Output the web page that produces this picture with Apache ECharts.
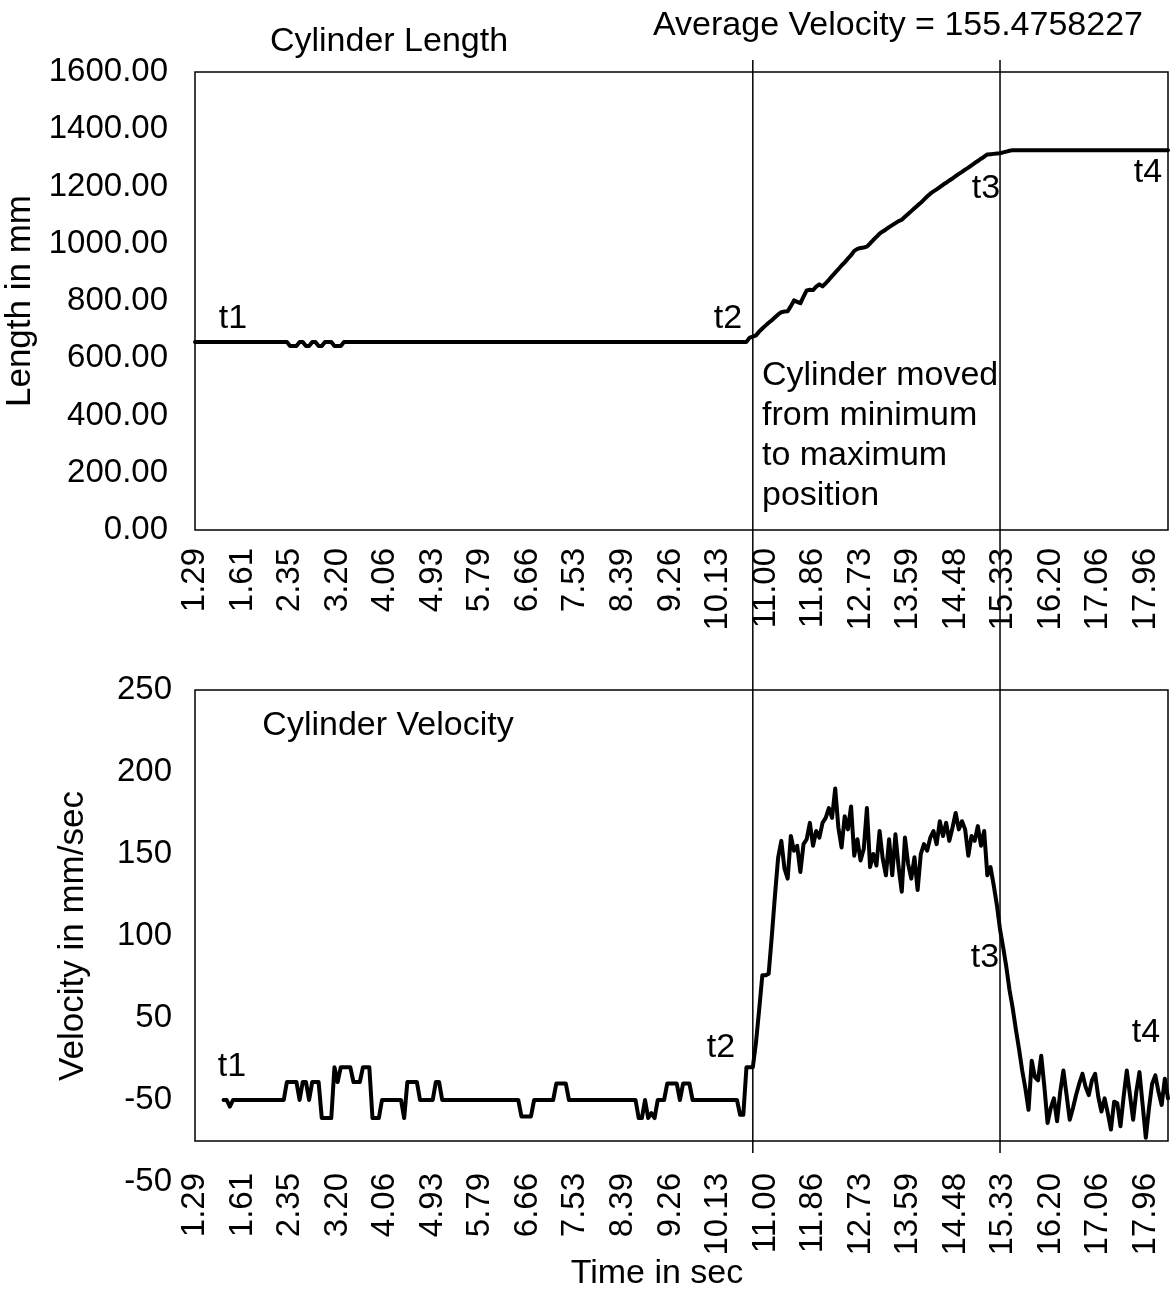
<!DOCTYPE html>
<html><head><meta charset="utf-8">
<script src="https://cdn.jsdelivr.net/npm/echarts@6.0.0/dist/echarts.min.js"></script>
<style>html,body{margin:0;padding:0;background:#fff}#c{width:1176px;height:1301px}</style>
</head><body><div id="c"></div>
<script>
// time (s) per sample; every 15th is labelled
const times = [
1.29,1.31,1.33,1.35,1.38,1.40,1.42,1.44,1.46,1.48,1.50,1.52,1.55,1.57,1.59,
1.61,1.66,1.71,1.76,1.81,1.86,1.91,1.96,2.00,2.05,2.10,2.15,2.20,2.25,2.30,
2.35,2.41,2.46,2.52,2.58,2.63,2.69,2.75,2.80,2.86,2.92,2.97,3.03,3.09,3.14,
3.20,3.26,3.31,3.37,3.43,3.49,3.54,3.60,3.66,3.72,3.77,3.83,3.89,3.95,4.00,
4.06,4.12,4.18,4.23,4.29,4.35,4.41,4.47,4.52,4.58,4.64,4.70,4.76,4.81,4.87,
4.93,4.99,5.04,5.10,5.16,5.22,5.27,5.33,5.39,5.45,5.50,5.56,5.62,5.68,5.73,
5.79,5.85,5.91,5.96,6.02,6.08,6.14,6.20,6.25,6.31,6.37,6.43,6.49,6.54,6.60,
6.66,6.72,6.78,6.83,6.89,6.95,7.01,7.07,7.12,7.18,7.24,7.30,7.36,7.41,7.47,
7.53,7.59,7.64,7.70,7.76,7.82,7.87,7.93,7.99,8.05,8.10,8.16,8.22,8.28,8.33,
8.39,8.45,8.51,8.56,8.62,8.68,8.74,8.80,8.85,8.91,8.97,9.03,9.09,9.14,9.20,
9.26,9.32,9.38,9.43,9.49,9.55,9.61,9.67,9.72,9.78,9.84,9.90,9.96,10.01,10.07,
10.13,10.19,10.25,10.30,10.36,10.42,10.48,10.54,10.59,10.65,10.71,10.77,10.83,10.88,10.94,
11.00,11.06,11.11,11.17,11.23,11.29,11.34,11.40,11.46,11.52,11.57,11.63,11.69,11.75,11.80,
11.86,11.92,11.98,12.03,12.09,12.15,12.21,12.27,12.32,12.38,12.44,12.50,12.56,12.61,12.67,
12.73,12.79,12.84,12.90,12.96,13.02,13.07,13.13,13.19,13.25,13.30,13.36,13.42,13.48,13.53,
13.59,13.65,13.71,13.77,13.83,13.89,13.95,14.01,14.06,14.12,14.18,14.24,14.30,14.36,14.42,
14.48,14.54,14.59,14.65,14.71,14.76,14.82,14.88,14.93,14.99,15.05,15.10,15.16,15.22,15.27,
15.33,15.39,15.45,15.50,15.56,15.62,15.68,15.74,15.79,15.85,15.91,15.97,16.03,16.08,16.14,
16.20,16.26,16.31,16.37,16.43,16.49,16.54,16.60,16.66,16.72,16.77,16.83,16.89,16.95,17.00,
17.06,17.12,17.18,17.24,17.30,17.36,17.42,17.48,17.54,17.60,17.66,17.72,17.78,17.84,17.90,
17.96,18.02,18.08,18.14,18.20,18.26,18.32,18.38
];

// cylinder length (mm)
const lengthMm = [
657,657,657,657,657,657,657,657,657,657,
657,657,657,657,657,657,657,657,657,657,
657,657,657,657,657,657,657,657,657,657,
643,643,643,657,657,643,643,657,657,643,
643,657,657,657,643,643,643,657,657,657,
657,657,657,657,657,657,657,657,657,657,
657,657,657,657,657,657,657,657,657,657,
657,657,657,657,657,657,657,657,657,657,
657,657,657,657,657,657,657,657,657,657,
657,657,657,657,657,657,657,657,657,657,
657,657,657,657,657,657,657,657,657,657,
657,657,657,657,657,657,657,657,657,657,
657,657,657,657,657,657,657,657,657,657,
657,657,657,657,657,657,657,657,657,657,
657,657,657,657,657,657,657,657,657,657,
657,657,657,657,657,657,657,657,657,657,
657,657,657,657,657,657,657,657,657,657,
657,657,657,657,657,672,675,680,693,704,
714,724,733,743,753,761,763,764,782,802,
797,792,815,837,839,838,850,858,851,862,
874,887,899,911,924,935,948,960,975,982,
985,987,990,1001,1013,1024,1035,1043,1050,1058,
1065,1072,1079,1084,1094,1104,1114,1124,1134,1143,
1154,1165,1175,1183,1190,1198,1206,1213,1221,1228,
1236,1244,1251,1259,1266,1274,1282,1289,1297,1304,
1312,1313,1314,1315,1316,1319,1322,1325,1327,1327,
1327,1327,1327,1327,1327,1327,1327,1327,1327,1327,
1327,1327,1327,1327,1327,1327,1327,1327,1327,1327,
1327,1327,1327,1327,1327,1327,1327,1327,1327,1327,
1327,1327,1327,1327,1327,1327,1327,1327,1327,1327,
1327,1327,1327,1327,1327,1327,1327,1327
];

// cylinder velocity (mm/sec)
const velocity = [
null,null,null,null,null,null,null,null,null,0,
0,-4,0,0,0,0,0,0,0,0,
0,0,0,0,0,0,0,0,0,11,
11,11,11,0,11,11,0,11,11,11,
-11,-11,-11,-11,20,11,20,20,20,20,
11,11,11,20,20,20,-11,-11,-11,0,
0,0,0,0,0,0,-11,11,11,11,
11,0,0,0,0,0,11,11,0,0,
0,0,0,0,0,0,0,0,0,0,
0,0,0,0,0,0,0,0,0,0,
0,0,0,-10,-10,-10,-10,0,0,0,
0,0,0,0,10,10,10,10,0,0,
0,0,0,0,0,0,0,0,0,0,
0,0,0,0,0,0,0,0,0,0,
-11,-11,0,-11,-8,-11,0,0,0,10,
10,10,10,0,10,10,10,0,0,0,
0,0,0,0,0,0,0,0,0,0,
0,0,-9,-9,20,20,20,35,55,76,
76,77,100,125,148,158,141,135,161,152,
155,139,156,159,169,155,164,160,169,172,
178,172,190,166,154,173,165,179,149,159,
146,153,178,142,150,143,164,147,137,159,
137,162,142,127,160,144,135,148,128,150,
156,152,160,164,156,170,161,169,158,166,
175,165,170,165,149,161,158,167,155,164,
137,142,131,119,104,93,81,67,56,43,
31,18,7,-6,24,14,12,27,8,-14,
-5,1,-13,5,18,3,-12,-5,3,10,
16,8,3,12,16,2,-7,1,-8,-18,
-1,-2,-16,2,18,3,-12,5,17,-3,
-23,-5,10,15,5,-3,13,1
];

// velocity axis tick labels as printed (bottom to top)
const velocityTickLabels = ['-50','-50','50','100','150','200','250'];
// sample indices of the t2 and t3 marker lines
const phaseMarkers = [176, 254];

const FONT = 'Liberation Sans, Arial, sans-serif';
const tick = {color:'#000', fontSize:33, fontFamily:FONT};
const nameTxt = {color:'#000', fontSize:35, fontFamily:FONT};
const chart = echarts.init(document.getElementById('c'), null, {renderer:'canvas'});

function catAxis(grid, margin){
  return {gridIndex:grid, type:'category', data:times, boundaryGap:false,
    axisLine:{show:false}, axisTick:{show:false}, splitLine:{show:false},
    axisLabel:Object.assign({interval:14, rotate:90, margin:margin,
      formatter:v=>Number(v).toFixed(2)}, tick)};
}
const lineStyle = {color:'#000', width:4, join:'round', cap:'round'};

chart.setOption({
  animation:false,
  backgroundColor:'#fff',
  grid:[
    {left:195, width:973, top:72, height:458, show:true, borderColor:'#000', borderWidth:1.5, outerBoundsMode:'none'},
    {left:195, width:973, top:690, height:451, show:true, borderColor:'#000', borderWidth:1.5, outerBoundsMode:'none'},
    {left:195, width:973, top:690, height:492, show:false, outerBoundsMode:'none'}
  ],
  xAxis:[
    catAxis(0, 18),
    catAxis(1, 32),
    {gridIndex:2, type:'value', show:false, min:0, max:1}
  ],
  yAxis:[
    {gridIndex:0, type:'value', min:0, max:1600, interval:200,
     axisLine:{show:false}, axisTick:{show:false}, splitLine:{show:false},
     axisLabel:Object.assign({margin:27, formatter:v=>v.toFixed(2)}, tick),
     name:'Length in mm', nameLocation:'middle', nameGap:150, nameTextStyle:nameTxt},
    {gridIndex:1, type:'value', min:-25, max:250,
     axisLine:{show:false}, axisTick:{show:false}, splitLine:{show:false}, axisLabel:{show:false}},
    {gridIndex:2, type:'value', min:-50, max:250, interval:50,
     axisLine:{show:false}, axisTick:{show:false}, splitLine:{show:false},
     axisLabel:Object.assign({margin:23, formatter:v=>velocityTickLabels[Math.round((v+50)/50)]}, tick),
     name:'Velocity in mm/sec', nameLocation:'middle', nameGap:104, nameTextStyle:nameTxt}
  ],
  series:[
    {type:'line', xAxisIndex:0, yAxisIndex:0, data:lengthMm, symbol:'none', lineStyle:lineStyle, z:3},
    {type:'line', xAxisIndex:1, yAxisIndex:1, data:velocity, symbol:'none', lineStyle:lineStyle, z:3}
  ]
});

function T(text, x, y, align){
  return {type:'text', x:x, y:y, z:10, style:{text:text, font:'34px '+FONT, fill:'#000',
    textAlign:align||'center', textVerticalAlign:'middle'}};
}
const g = [];
phaseMarkers.forEach(idx=>{
  const px = chart.convertToPixel({xAxisIndex:0, yAxisIndex:0}, [idx, 0])[0];
  g.push({type:'line', z:5, shape:{x1:px, y1:60, x2:px, y2:1153}, style:{stroke:'#000', lineWidth:1.5}});
});
g.push(T('Cylinder Length', 389, 42));
g.push(T('Average Velocity = 155.4758227', 898, 26));
g.push(T('Cylinder Velocity', 388, 726));
g.push(T('Time in sec', 657, 1274));
g.push(T('t1', 233, 319)); g.push(T('t2', 728, 319)); g.push(T('t3', 986, 189)); g.push(T('t4', 1148, 173));
g.push(T('t1', 232, 1067)); g.push(T('t2', 721, 1048)); g.push(T('t3', 985, 958)); g.push(T('t4', 1146, 1033));
g.push(T('Cylinder moved', 762, 376, 'left'));
g.push(T('from minimum', 762, 416, 'left'));
g.push(T('to maximum', 762, 456, 'left'));
g.push(T('position', 762, 496, 'left'));
chart.setOption({graphic:g});
</script>
</body></html>
